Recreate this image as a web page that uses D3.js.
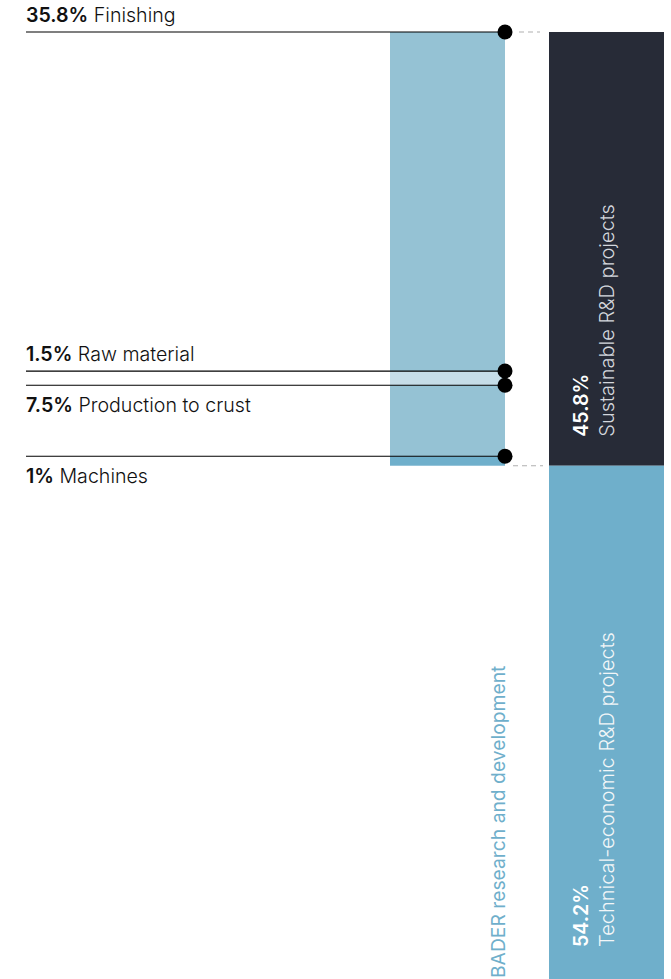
<!DOCTYPE html>
<html><head><meta charset="utf-8">
<script src="https://cdn.jsdelivr.net/npm/d3@7"></script>
<style>html,body{margin:0;padding:0;background:#fff;}svg{display:block;font-family:Inter,Roboto,"Noto Sans",sans-serif;}</style>
</head><body><div id="chart"></div>
<script>
// Breakdown of sustainable R&D (share of total R&D, %)
const subCategories = ["Finishing", "Raw material", "Production to crust", "Machines"];
const subValues = [35.8, 1.5, 7.5, 1];
const subLabels = ["35.8%", "1.5%", "7.5%", "1%"];
// Total R&D split
const mainCategories = ["Sustainable R&D projects", "Technical-economic R&D projects"];
const mainValues = [45.8, 54.2];
const mainLabels = ["45.8%", "54.2%"];
const sideTitle = "BADER research and development";

const W = 671, H = 979;
const svg = d3.select("#chart").append("svg").attr("width", W).attr("height", H);

const y = d3.scaleLinear().domain([0, 100]).range([32, 979]);
const xBand = d3.scaleOrdinal().domain(["sub", "main"]).range([390, 549]);
const barW = 115;

const subColors = ["#95c2d4", "#c6dde8", "#95c2d4", "#6fafcb"];
const mainColors = ["#272b37", "#6fafcb"];

const subData = subValues.map((v, i) => ({ cat: subCategories[i], v, lab: subLabels[i], start: d3.sum(subValues.slice(0, i)) }));
const mainData = mainValues.map((v, i) => ({ cat: mainCategories[i], v, lab: mainLabels[i], start: d3.sum(mainValues.slice(0, i)) }));

svg.selectAll("rect.main").data(mainData).join("rect")
  .attr("x", xBand("main")).attr("width", barW)
  .attr("y", d => y(d.start)).attr("height", d => y(d.start + d.v) - y(d.start))
  .attr("fill", (d, i) => mainColors[i]);

svg.selectAll("rect.sub").data(subData).join("rect")
  .attr("x", xBand("sub")).attr("width", barW)
  .attr("y", d => y(d.start)).attr("height", d => y(d.start + d.v) - y(d.start))
  .attr("fill", (d, i) => subColors[i]);

const dotX = xBand("sub") + barW;

const subTotal = d3.sum(subValues);
[0, subTotal].forEach((v, i) => {
  svg.append("line")
    .attr("x1", dotX + (i === 0 ? 14 : 8)).attr("x2", xBand("main") - (i === 0 ? 9 : 6))
    .attr("y1", y(v)).attr("y2", y(v))
    .attr("stroke", "#b0b0b0").attr("stroke-width", 1.2).attr("stroke-dasharray", "5,4");
});

const n = subData.length;
subData.forEach((d, i) => {
  const yy = y(d.start);
  svg.append("line").attr("x1", 26).attr("x2", dotX).attr("y1", yy).attr("y2", yy)
    .attr("stroke", "#000").attr("stroke-width", 1.2);
  svg.append("circle").attr("cx", dotX).attr("cy", yy).attr("r", 7.5).attr("fill", "#000");
  const above = i < n / 2;
  const t = svg.append("text").attr("x", 26).attr("y", above ? yy - 10 : yy + 27)
    .attr("font-size", 19.6).attr("fill", "#111");
  t.append("tspan").attr("font-weight", 600).text(d.lab);
  t.append("tspan").attr("font-weight", 300).text(" " + d.cat);
});

svg.append("text")
  .attr("transform", `translate(${dotX},${H - 1}) rotate(-90)`)
  .attr("font-size", 19.3).attr("font-weight", 400).attr("fill", "#6fafcb")
  .text(sideTitle);

mainData.forEach((d, i) => {
  const yb = y(d.start + d.v) - (i === 0 ? 29 : 32);
  const x0 = xBand("main");
  svg.append("text")
    .attr("transform", `translate(${x0 + 39},${yb}) rotate(-90)`)
    .attr("font-size", 19.6).attr("font-weight", 600).attr("fill", "#fff")
    .text(d.lab);
  svg.append("text")
    .attr("transform", `translate(${x0 + 65},${yb}) rotate(-90)`)
    .attr("font-size", 20).attr("font-weight", 300).attr("fill", i === 0 ? "#d4d7dd" : "#f2f6f8")
    .text(d.cat);
});
</script></body></html>
